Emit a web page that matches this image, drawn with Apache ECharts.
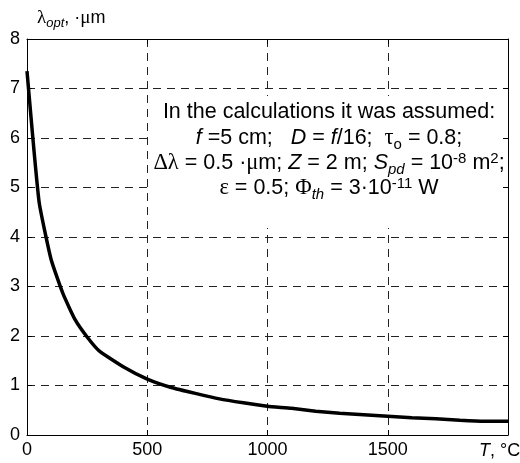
<!DOCTYPE html>
<html>
<head>
<meta charset="utf-8">
<script src="https://cdn.jsdelivr.net/npm/echarts@6/dist/echarts.min.js"></script>
<style>html,body{margin:0;padding:0;background:#fff;}#c{width:520px;height:463px;}</style>
</head>
<body>
<div id="c"></div>
<script>
// Data
const temperatures = [0, 50, 100, 150, 200, 250, 300, 400, 500, 600, 700, 800, 900, 1000, 1100, 1200, 1300, 1400, 1500, 1600, 1700, 1800, 1900, 2000];
const lambdaOpt    = [7.35, 4.72, 3.55, 2.85, 2.33, 1.98, 1.70, 1.38, 1.13, 0.96, 0.84, 0.73, 0.65, 0.58, 0.54, 0.48, 0.44, 0.41, 0.38, 0.35, 0.33, 0.30, 0.28, 0.28];
const xTicks = [0, 500, 1000, 1500];
const yTicks = [0, 1, 2, 3, 4, 5, 6, 7, 8];

const SANS = "'Liberation Sans', Arial, sans-serif";
const SERIF = "'Liberation Serif', 'DejaVu Serif', serif";

const chart = echarts.init(document.getElementById('c'), null, {renderer: 'canvas'});

const gridLine = {show: true, lineStyle: {color: '#222', width: 1, type: [8, 6]}};
const FS = 21.5;
const boxRich = {
  n:  {fontFamily: SANS, fontSize: FS, color: '#000', lineHeight: 26},
  i:  {fontFamily: SANS, fontSize: FS, fontStyle: 'italic', color: '#000', lineHeight: 26},
  g:  {fontFamily: SERIF, fontSize: FS + 1, color: '#000', lineHeight: 26},
  sub:{fontFamily: SANS, fontSize: 15, color: '#000', lineHeight: 26, verticalAlign: 'bottom', padding: [0,0,-1,0]},
  subi:{fontFamily: SANS, fontSize: 15, fontStyle: 'italic', color: '#000', lineHeight: 26, verticalAlign: 'bottom', padding: [0,0,-1,0]},
  sup:{fontFamily: SANS, fontSize: 15, color: '#000', lineHeight: 26, verticalAlign: 'top', padding: [1,0,0,0]}
};
function boxLine(text, y) {
  return {type: 'text', x: 329, y: y, z: 6,
    style: {text: text, rich: boxRich, align: 'center', verticalAlign: 'middle', fill: '#000'}};
}

chart.setOption({
  animation: false,
  backgroundColor: '#fff',
  grid: {left: 27, right: 12, top: 39, bottom: 28, containLabel: false},
  xAxis: [{
    type: 'value', position: 'bottom', min: 0, max: 2000, interval: 500,
    axisLine: {show: true, onZero: false, lineStyle: {color: '#000', width: 1}},
    axisTick: {show: true, inside: true, length: 5, lineStyle: {color: '#000'}},
    axisLabel: {show: true, margin: 6, fontFamily: SANS, fontSize: 18, color: '#000',
      formatter: v => xTicks.indexOf(v) >= 0 ? String(v) : ''},
    splitLine: gridLine
  }, {
    type: 'value', position: 'top', min: 0, max: 2000, interval: 500, z: 10,
    axisLine: {show: true, onZero: false, lineStyle: {color: '#000', width: 1}},
    axisTick: {show: true, inside: true, length: 5, lineStyle: {color: '#000'}},
    axisLabel: {show: false}, splitLine: {show: false}
  }],
  yAxis: [{
    type: 'value', position: 'left', min: 0, max: 8, interval: 1,
    axisLine: {show: true, onZero: false, lineStyle: {color: '#000', width: 1}},
    axisTick: {show: true, inside: true, length: 5, lineStyle: {color: '#000'}},
    axisLabel: {show: true, margin: 7, fontFamily: SANS, fontSize: 18, color: '#000',
      formatter: v => yTicks.indexOf(v) >= 0 ? String(v) : ''},
    splitLine: gridLine
  }, {
    type: 'value', position: 'right', min: 0, max: 8, interval: 1, z: 10,
    axisLine: {show: true, onZero: false, lineStyle: {color: '#000', width: 1}},
    axisTick: {show: true, inside: true, length: 5, lineStyle: {color: '#000'}},
    axisLabel: {show: false}, splitLine: {show: false}
  }],
  series: [{
    type: 'line', xAxisIndex: 0, yAxisIndex: 0, showSymbol: false, smooth: 0.15,
    lineStyle: {color: '#000', width: 3.5}, z: 3,
    data: temperatures.map((t, k) => [t, lambdaOpt[k]])
  }],
  graphic: [
    {type: 'rect', shape: {x: 149, y: 96, width: 357, height: 132}, style: {fill: '#fff'}, z: 5},
    boxLine('{n|In the calculations it was assumed:}', 112),
    boxLine('{i|f}{n| =5 cm;   }{i|D}{n| = }{i|f}{n|/16;  }{g|τ}{sub|o}{n| = 0.8;}', 138),
    boxLine('{g|Δλ}{n| = 0.5 ·}{g|μ}{n|m; }{i|Z}{n| = 2 m; }{i|S}{subi|pd}{n| = 10}{sup|-8}{n| m}{sup|2}{n|;}', 163),
    boxLine('{g|ε}{n| = 0.5; }{g|Φ}{subi|th}{n| = 3·10}{sup|-11}{n| W}', 188),
    {type: 'text', x: 37, y: 18, z: 6,
      style: {text: '{g|λ}{subi|opt}{n|, ·}{g|μ}{n|m}', align: 'left', verticalAlign: 'middle',
        rich: {
          n: {fontFamily: SANS, fontSize: 18, color: '#000', lineHeight: 24},
          g: {fontFamily: SERIF, fontSize: 19, color: '#000', lineHeight: 24},
          subi: {fontFamily: SANS, fontSize: 13, fontStyle: 'italic', color: '#000', lineHeight: 24, verticalAlign: 'bottom'}
        }}},
    {type: 'text', x: 479, y: 451, z: 6,
      style: {text: '{i|T}{n|, °C}', align: 'left', verticalAlign: 'middle',
        rich: {
          n: {fontFamily: SANS, fontSize: 18, color: '#000'},
          i: {fontFamily: SANS, fontSize: 18, fontStyle: 'italic', color: '#000'}
        }}}
  ]
});
</script>
</body>
</html>
